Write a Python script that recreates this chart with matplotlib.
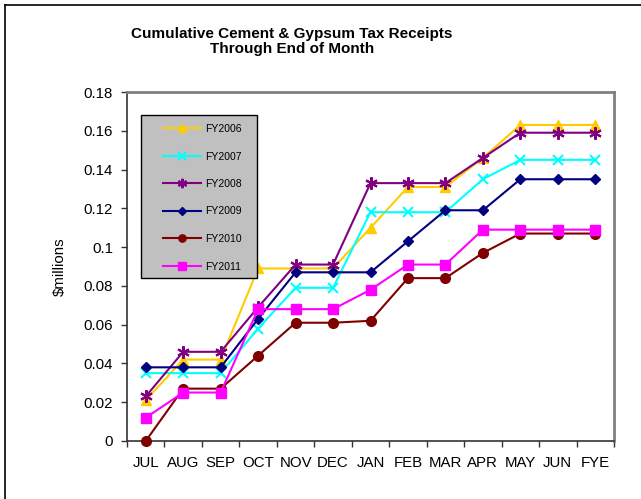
import numpy as np
import matplotlib
matplotlib.use('AGG')
import matplotlib.pyplot as plt
from matplotlib.lines import Line2D
from matplotlib.patches import Rectangle

plt.rcParams['font.family'] = ['Liberation Sans', 'DejaVu Sans']

months = ['JUL', 'AUG', 'SEP', 'OCT', 'NOV', 'DEC', 'JAN',
          'FEB', 'MAR', 'APR', 'MAY', 'JUN', 'FYE']

fy2006 = [0.021, 0.042, 0.042, 0.089, 0.089, 0.089, 0.110,
          0.131, 0.131, 0.146, 0.163, 0.163, 0.163]
fy2007 = [0.035, 0.035, 0.035, 0.058, 0.079, 0.079, 0.118,
          0.118, 0.118, 0.135, 0.145, 0.145, 0.145]
fy2008 = [0.023, 0.046, 0.046, 0.069, 0.091, 0.091, 0.133,
          0.133, 0.133, 0.146, 0.159, 0.159, 0.159]
fy2009 = [0.038, 0.038, 0.038, 0.063, 0.087, 0.087, 0.087,
          0.103, 0.119, 0.119, 0.135, 0.135, 0.135]
fy2010 = [0.000, 0.027, 0.027, 0.044, 0.061, 0.061, 0.062,
          0.084, 0.084, 0.097, 0.107, 0.107, 0.107]
fy2011 = [0.012, 0.025, 0.025, 0.068, 0.068, 0.068, 0.078,
          0.091, 0.091, 0.109, 0.109, 0.109, 0.109]

series = [
    ('FY2006', fy2006, '#FFCC00', '^', 7),
    ('FY2007', fy2007, '#00FFFF', 'x', 7),
    ('FY2008', fy2008, '#800080', (6, 2, 0), 9),
    ('FY2009', fy2009, '#000080', 'D', 5.5),
    ('FY2010', fy2010, '#800000', 'o', 7),
    ('FY2011', fy2011, '#FF00FF', 's', 7),
]

W, H = 641, 499
fig = plt.figure(figsize=(W / 100, H / 100), dpi=100)
ax = fig.add_axes([127 / W, 1 - 441 / H, 487 / W, 349 / H])

x = np.arange(len(months))
for name, vals, col, mk, ms in series:
    ax.plot(x, vals, color=col, marker=mk, markersize=ms, linewidth=1.5,
            markeredgewidth=1.5 if mk in ('x', (6, 2, 0)) else 1,
            markeredgecolor=col, markerfacecolor=col, label=name,
            clip_on=False, zorder=3)

ax.set_xlim(-0.5, len(months) - 0.5)
ax.set_ylim(0, 0.18)
ax.set_yticks(np.arange(0, 0.181, 0.02))
ax.set_yticklabels(['0', '0.02', '0.04', '0.06', '0.08', '0.1',
                    '0.12', '0.14', '0.16', '0.18'])
ax.set_xticks(x)
ax.set_xticklabels(months)
ax.set_xticks(np.arange(-0.5, len(months), 1), minor=True)
ax.tick_params(axis='x', which='major', length=0, pad=11, labelsize=10.8)
ax.tick_params(axis='x', which='minor', length=4, width=1, color='#333333',
               direction='out')
ax.tick_params(axis='y', length=4, width=1, color='#333333', pad=6,
               labelsize=10.8, direction='out')

for s in ['left', 'bottom']:
    ax.spines[s].set_color('#333333')
    ax.spines[s].set_linewidth(1.2)
for s in ['top', 'right']:
    ax.spines[s].set_color('#808080')
    ax.spines[s].set_linewidth(2)

ax.set_ylabel('\\$millions', fontsize=10.8, labelpad=12)

fig.text(292 / W, 1 - 41.5 / H,
         'Cumulative Cement & Gypsum Tax Receipts\nThrough End of Month',
         ha='center', va='center', fontsize=11, fontweight='bold',
         linespacing=1.12)

# legend box drawn separately so its padding can match
ax_px = lambda px, py: ((px - 127) / 487, (441 - py) / 349)
x0, y0 = ax_px(141, 278)
x1, y1 = ax_px(257, 115)
ax.add_patch(Rectangle((x0, y0), x1 - x0, y1 - y0, transform=ax.transAxes,
                       facecolor='#C0C0C0', edgecolor='black', lw=1,
                       zorder=4, clip_on=False))
lx, ly = ax_px(163, 124)
leg = ax.legend(loc='upper left', bbox_to_anchor=(lx, ly),
                borderaxespad=0, borderpad=0, fontsize=7.5,
                labelspacing=1.68, handlelength=3.6, handletextpad=0.4,
                frameon=False, markerscale=0.75)
leg.set_zorder(5)

# outer chart border (only top and left edges visible in the frame)
fig.add_artist(Line2D([5 / W, 5 / W], [0, 1 - 4.5 / H],
                      transform=fig.transFigure, color='black', lw=1.2))
fig.add_artist(Line2D([5 / W, 1], [1 - 4.5 / H, 1 - 4.5 / H],
                      transform=fig.transFigure, color='black', lw=1.2))

fig.savefig('out.png', dpi=100)
